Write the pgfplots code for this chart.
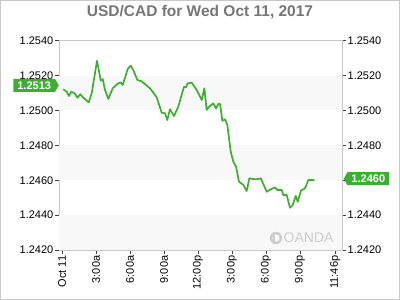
\documentclass[border=0pt]{standalone}
\usepackage{fontspec}
\setmainfont{Liberation Sans}
\usepackage{pgfplots}
\pgfplotsset{compat=1.18}
\usetikzlibrary{shapes.symbols}
\definecolor{oagreen}{RGB}{62,173,51}
\definecolor{band}{RGB}{248,248,248}
\definecolor{frame}{RGB}{200,200,200}
\definecolor{titlegray}{RGB}{118,118,118}
\definecolor{wm}{RGB}{205,205,205}
\begin{document}
\begin{tikzpicture}[x=1pt,y=1pt]
\path[use as bounding box] (0,0) rectangle (400,300);
\draw[frame,line width=0.8pt] (0.5,0.5) rectangle (399.5,299.5);
\node[font=\bfseries\fontsize{15.5}{17}\selectfont, text=titlegray] at (200,288) {USD/CAD for Wed Oct 11, 2017};
\begin{axis}[
  at={(59pt,50pt)}, anchor=south west,
  scale only axis, width=283pt, height=209.3pt,
  xmin=-0.265, xmax=24.71, ymin=1.2420, ymax=1.2540,
  axis x line=none, axis y line*=right,
  axis line style={draw=frame, line width=0.8pt, -},
  tick align=outside, major tick length=4pt,
  tick style={draw=black!75, line width=0.6pt},
  ytick={1.2420,1.2440,1.2460,1.2480,1.2500,1.2520,1.2540},
  yticklabels={1.2420,1.2440,{},1.2480,1.2500,1.2520,1.2540},
  yticklabel style={font=\fontsize{11}{12}\selectfont, inner sep=1.5pt},
]
\end{axis}
\begin{axis}[
  at={(59pt,50pt)}, anchor=south west,
  scale only axis, width=283pt, height=209.3pt,
  xmin=-0.265, xmax=24.71, ymin=1.2420, ymax=1.2540,
  clip=false,
  axis line style={draw=frame, line width=0.8pt},
  tick pos=left, tick align=outside,
  major tick length=4pt,
  tick style={draw=black!75, line width=0.6pt},
  xtick={0,3,6,9,12,15,18,21,24.1},
  xticklabels={Oct 11,3:00a,6:00a,9:00a,12:00p,3:00p,6:00p,9:00p,11:46p},
  xticklabel style={rotate=90, anchor=east, font=\fontsize{11}{12}\selectfont, inner sep=1.5pt},
  ytick={1.2420,1.2440,1.2460,1.2480,1.2500,1.2520,1.2540},
  yticklabels={1.2420,1.2440,1.2460,1.2480,1.2500,1.2520,1.2540},
  yticklabel style={font=\fontsize{11}{12}\selectfont, inner sep=1.5pt},
]
\fill[band] (axis cs:-0.265,1.2500) rectangle (axis cs:24.71,1.2520);
\fill[band] (axis cs:-0.265,1.2460) rectangle (axis cs:24.71,1.2480);
\fill[band] (axis cs:-0.265,1.2420) rectangle (axis cs:24.71,1.2440);
\addplot[oagreen, line width=1.7pt, line join=round] table {
x y
0.11 1.25121
0.41 1.25108
0.62 1.25083
0.82 1.25108
1.12 1.25098
1.35 1.25073
1.62 1.25093
1.88 1.25073
2.36 1.25047
2.62 1.25098
3.09 1.25285
3.42 1.25171
3.59 1.25180
3.80 1.25117
4.09 1.25066
4.47 1.25127
4.97 1.25156
5.18 1.25161
5.36 1.25146
5.80 1.25238
6.06 1.25257
6.29 1.25232
6.65 1.25175
7.03 1.25167
7.77 1.25127
8.36 1.25075
8.80 1.24987
9.09 1.24984
9.29 1.24945
9.53 1.25007
9.89 1.24968
10.26 1.25022
10.77 1.25136
10.94 1.25133
11.09 1.25156
11.45 1.25159
11.89 1.25117
12.33 1.25060
12.56 1.25127
12.77 1.25003
13.00 1.25022
13.35 1.25041
13.59 1.25012
13.80 1.25037
13.95 1.25037
14.15 1.24941
14.39 1.24949
14.59 1.24917
14.89 1.24764
15.12 1.24706
15.36 1.24678
15.62 1.24592
16.00 1.24573
16.30 1.24538
16.53 1.24611
16.88 1.24607
17.18 1.24605
17.54 1.24611
18.07 1.24534
18.42 1.24548
18.80 1.24559
19.00 1.24544
19.39 1.24544
19.53 1.24515
19.83 1.24515
20.12 1.24442
20.36 1.24458
20.63 1.24511
20.80 1.24477
21.09 1.24540
21.45 1.24554
21.74 1.24601
22.27 1.24601
};
\node[signal, signal to=east, signal pointer angle=120, fill=oagreen, text=white,
  font=\bfseries\fontsize{11}{12}\selectfont, inner xsep=4pt, inner ysep=2.2pt,
  minimum height=13pt, anchor=east, yshift=2.5pt] at (axis cs:-0.265,1.2513) {1.2513};
\node[signal, signal to=west, signal pointer angle=120, fill=oagreen, text=white,
  font=\bfseries\fontsize{11}{12}\selectfont, inner xsep=4pt, inner ysep=2.2pt,
  minimum height=13pt, anchor=west, xshift=1.5pt, yshift=1.5pt] at (axis cs:24.71,1.2460) {1.2460};
\end{axis}
\fill[wm] (276,62) circle (6.2);
\fill[white] (276,62) circle (3.6);
\fill[wm] (273.2,56) rectangle (275,68);
\node[font=\fontsize{14}{15}\selectfont, text=wm, anchor=west, inner sep=0pt] at (283.5,62) {OANDA};
\end{tikzpicture}
\end{document}
